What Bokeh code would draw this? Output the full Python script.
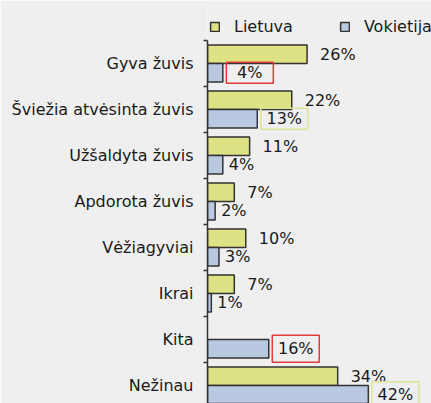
from bokeh.plotting import figure
from bokeh.models import Range1d, FixedTicker, Legend, LegendItem, ColumnDataSource
from bokeh.core.properties import value
from bokeh.embed import file_html
from bokeh.resources import INLINE

# ---- data ----
categories = ["Gyva žuvis", "Šviežia atvėsinta žuvis", "Užšaldyta žuvis",
              "Apdorota žuvis", "Vėžiagyviai", "Ikrai", "Kita", "Nežinau"]
series = ["Lietuva", "Vokietija"]
lietuva = [26, 22, 11, 7, 10, 7, None, 34]
vokietija = [4, 13, 4, 2, 3, 1, 16, 42]

# ---- styling ----
FONT = "DejaVu Sans"
FS = "16px"
TXT = "#1a1a1a"
BG = "#efefef"
EDGE = "#333333"
COL_LT = "#dde285"
COL_DE = "#b8c9e1"
RED = "#e53a3a"
GREEN = "#dfe39a"
# highlighted Vokietija labels: category -> (box colour, box height px)
HIGHLIGHT = {"Gyva žuvis": (RED, 21), "Šviežia atvėsinta žuvis": (GREEN, 21),
             "Kita": (RED, 27), "Nežinau": (GREEN, 26)}

W, H = 431, 403
LEFT = 207
AXIS_TOP_PX = 40          # where the category axis starts (px from top)
PX_PER_CAT = 46
X_END = 58.5
n = len(categories)
AX_TOP = n - 0.5
Y_BOT = AX_TOP - (H - AXIS_TOP_PX) / PX_PER_CAT
Y_TOP = AX_TOP + AXIS_TOP_PX / PX_PER_CAT
BAR_H = 0.4
BOX_W, BOX_GAP = 47, 3.5
px_per_unit = (W - LEFT) / X_END

ypos = [n - 1 - i for i in range(n)]

p = figure(width=W, height=H, x_range=Range1d(0, X_END), y_range=Range1d(Y_BOT, Y_TOP),
           output_backend="svg", toolbar_location=None, x_axis_location=None,
           min_border_left=LEFT, min_border_right=0, min_border_top=0, min_border_bottom=0,
           background_fill_color=BG, border_fill_color=BG, outline_line_color=None)
p.xgrid.grid_line_color = None
p.ygrid.grid_line_color = None

ax = p.yaxis[0]
ax.bounds = (Y_BOT, AX_TOP)
ax.ticker = FixedTicker(ticks=ypos, minor_ticks=[y + 0.5 for y in ypos])
ax.major_label_overrides = {y: c for y, c in zip(ypos, categories)}
ax.major_tick_in = 0
ax.major_tick_out = 0
ax.minor_tick_in = 0
ax.minor_tick_out = 4
ax.minor_tick_line_color = EDGE
ax.minor_tick_line_width = 1.5
ax.axis_line_color = EDGE
ax.axis_line_width = 1.5
ax.major_label_standoff = 10
ax.major_label_text_font = FONT
ax.major_label_text_font_size = FS
ax.major_label_text_color = TXT

# Lietuva (skip missing)
lt_idx = [i for i, v in enumerate(lietuva) if v is not None]
src_lt = ColumnDataSource(dict(
    y=[ypos[i] + BAR_H / 2 for i in lt_idx],
    v=[lietuva[i] for i in lt_idx],
    t=[f"{lietuva[i]}%" for i in lt_idx]))
src_de = ColumnDataSource(dict(
    y=[y - BAR_H / 2 for y in ypos],
    v=vokietija,
    t=[f"{v}%" for v in vokietija]))

r_lt = p.hbar(y="y", left=0, right="v", height=BAR_H, source=src_lt,
              fill_color=COL_LT, line_color=EDGE, line_width=1.5)
r_de = p.hbar(y="y", left=0, right="v", height=BAR_H, source=src_de,
              fill_color=COL_DE, line_color=EDGE, line_width=1.5)

p.text(x="v", y="y", text="t", source=src_lt, x_offset=13,
       text_align="left", text_baseline="middle",
       text_font=value(FONT), text_font_size=FS, text_color=TXT)

plain = [i for i, c in enumerate(categories) if c not in HIGHLIGHT]
boxed = [i for i, c in enumerate(categories) if c in HIGHLIGHT]
src_de_plain = ColumnDataSource(dict(
    x=[vokietija[i] for i in plain],
    y=[ypos[i] - BAR_H / 2 for i in plain],
    t=[f"{vokietija[i]}%" for i in plain]))
p.text(x="x", y="y", text="t", source=src_de_plain, x_offset=6,
       text_align="left", text_baseline="middle",
       text_font=value(FONT), text_font_size=FS, text_color=TXT)

src_box = ColumnDataSource(dict(
    x=[vokietija[i] + (BOX_GAP + BOX_W / 2) / px_per_unit for i in boxed],
    y=[ypos[i] - BAR_H / 2 for i in boxed],
    t=[f"{vokietija[i]}%" for i in boxed],
    c=[HIGHLIGHT[categories[i]][0] for i in boxed],
    h=[HIGHLIGHT[categories[i]][1] for i in boxed]))
p.rect(x="x", y="y", width=BOX_W, width_units="screen", height="h", height_units="screen",
       source=src_box, fill_color=None, line_color="c", line_width=1.5)
p.text(x="x", y="y", text="t", source=src_box,
       text_align="center", text_baseline="middle",
       text_font=value(FONT), text_font_size=FS, text_color=TXT)

legend = Legend(items=[LegendItem(label=series[0], renderers=[r_lt]),
                       LegendItem(label=series[1], renderers=[r_de])],
                location=(2, 367), orientation="horizontal",
                glyph_width=11, glyph_height=11, label_standoff=14, spacing=46,
                padding=3, margin=0, border_line_color=None, background_fill_alpha=0,
                label_text_font=FONT, label_text_font_size=FS, label_text_color=TXT)
p.add_layout(legend)

open("out.html", "w").write(file_html(p, INLINE))
